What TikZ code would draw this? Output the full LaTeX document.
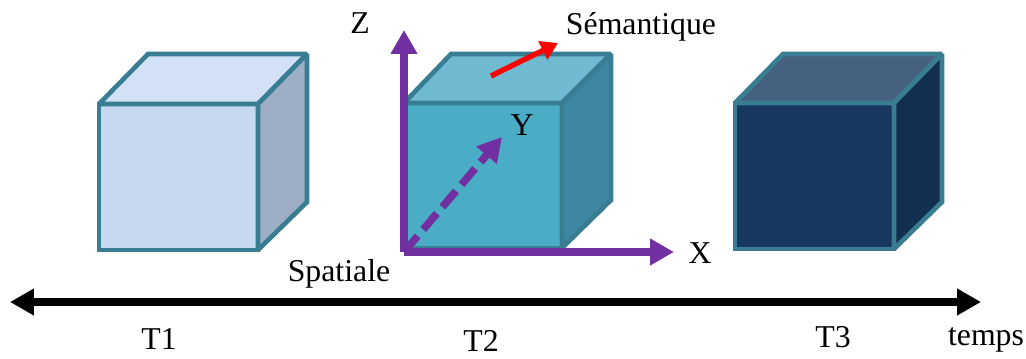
\documentclass[tikz,border=0pt]{standalone}
\usepackage{fontspec}
\setmainfont{Liberation Serif}
\usetikzlibrary{arrows.meta}
\definecolor{edgeteal}   {RGB}{56,  125, 145}
\definecolor{paleface}   {RGB}{198, 217, 240}
\definecolor{paletop}    {RGB}{210, 225, 245}
\definecolor{paleside}   {RGB}{158, 174, 198}
\definecolor{midface}    {RGB}{75,  172, 198}
\definecolor{midtop}     {RGB}{111, 186, 209}
\definecolor{midside}    {RGB}{62,  135, 160}
\definecolor{darkface}   {RGB}{23,  55,  94}
\definecolor{darktop}    {RGB}{70,  97,  128}
\definecolor{darkside}   {RGB}{19,  47,  79}
\definecolor{axispurple} {RGB}{112, 48,  160}
\tikzset{
	cubeface/.style={draw=edgeteal,line width=3.3pt,miter limit=2},
	axisline/.style={axispurple,line width=5.4pt,-{Triangle[length=17pt,width=18pt]}},
	timeline/.style={black,line width=5.6pt,{Triangle[length=17pt,width=18pt]}-{Triangle[length=17pt,width=18pt]}},
	label/.style={inner sep=0pt,font=\fontsize{22.6}{26}\selectfont}
}

\begin{document}
\begin{tikzpicture}[x=0.025cm,y=-0.025cm]
	\useasboundingbox (0,0) rectangle (1026,358);
	% light cube
	\draw[cubeface,fill=paleface] (99,104)--(258,104)--(258,250)--(99,250)--cycle;
	\draw[cubeface,fill=paletop] (99,104)--(148,54)--(307,54)--(258,104)--cycle;
	\draw[cubeface,fill=paleside] (258,104)--(307,54)--(307,202)--(258,250)--cycle;
	% middle cube
	\draw[cubeface,fill=midface] (404,103)--(562,103)--(562,248)--(404,248)--cycle;
	\draw[cubeface,fill=midtop] (404,103)--(451,54)--(611,54)--(562,103)--cycle;
	\draw[cubeface,fill=midside] (562,103)--(611,54)--(611,200)--(562,248)--cycle;
	% dark cube
	\draw[cubeface,fill=darkface] (735,103)--(894,103)--(894,249)--(735,249)--cycle;
	\draw[cubeface,fill=darktop] (735,103)--(783,54)--(942,54)--(894,103)--cycle;
	\draw[cubeface,fill=darkside] (894,103)--(942,54)--(942,202)--(894,249)--cycle;
	% axes
	\coordinate (origin) at (404,252);
	\coordinate (zend) at (404,30);
	\coordinate (xend) at (674,252);
	\coordinate (yend) at (502,137);
	\coordinate (semstart) at (491,76);
	\coordinate (semend) at (558,43);
	\coordinate (timeleft) at (10,302);
	\coordinate (timeright) at (981,302);
	\draw[axisline] (origin)--(zend);
	\draw[axisline] (origin)--(xend);
	\draw[axisline,dash pattern=on 15pt off 6pt] (origin)--(yend);
	\draw[red,line width=3.8pt,-{Triangle[length=12pt,width=14pt]}] (semstart)--(semend);
	\draw[timeline] (timeleft)--(timeright);
	% labels
	\node[label] (zlabel) at (360,23) {Z};
	\node[label] (xlabel) at (700,253) {X};
	\node[label] (ylabel) at (522,125) {Y};
	\node[label] (semlabel) at (641,27) {Sémantique};
	\node[label] (spalabel) at (339,274) {Spatiale};
	\node[label] (tone) at (159,339) {T1};
	\node[label] (ttwo) at (481,341) {T2};
	\node[label] (tthree) at (833,337) {T3};
	\node[label] (tempslabel) at (986,340) {temps};
\end{tikzpicture}
\end{document}
